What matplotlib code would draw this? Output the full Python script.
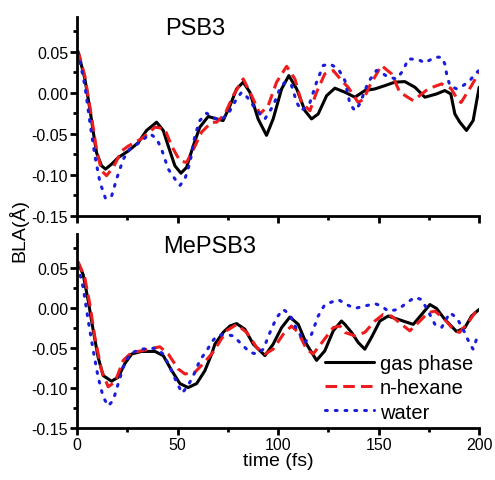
import matplotlib
matplotlib.use("Agg")
import matplotlib.pyplot as plt
from matplotlib.ticker import MultipleLocator

plt.rcParams['font.family'] = ['Liberation Sans', 'DejaVu Sans']

# ---- data: PSB3 (top panel) ----
t_gas_top = [0, 0.5, 3.8, 6.3, 8, 9.6, 12.1, 14.1, 17.1, 20.4, 25.4, 30.3, 34.5, 39.5, 42.8, 45.3,
             48.6, 51.6, 54.4, 57.7, 61, 65.2, 69.4, 72.6, 76, 79.3, 82.6, 85.9, 90, 94.2, 97.5,
             101.7, 105.3, 109.2, 113.3, 116.6, 119.9, 124.1, 128.2, 133.2, 138.2, 143.1, 148.1,
             153.1, 158, 163, 168, 173, 178.8, 182.9, 185.9, 187.9, 190.4, 193.7, 197, 200]
v_gas_top = [0.05, 0.049, 0.0167, -0.02, -0.048, -0.073, -0.089, -0.093, -0.087, -0.079, -0.071,
             -0.061, -0.046, -0.036, -0.046, -0.065, -0.089, -0.098, -0.091, -0.065, -0.042,
             -0.029, -0.032, -0.034, -0.016, 0.0045, 0.0127, 0.0005, -0.032, -0.052, -0.032,
             0.0045, 0.0207, 0.0045, -0.022, -0.032, -0.026, -0.0037, 0.0054, 0.0005, -0.0056,
             0.0025, 0.0045, 0.0085, 0.0127, 0.0134, 0.0066, -0.0056, -0.0016, 0.0025, -0.0016,
             -0.026, -0.036, -0.046, -0.034, 0.0066]

t_hex_top = [0, 0.5, 3.8, 7, 9.6, 12.1, 14.6, 17.9, 22.1, 25.4, 32, 38.7, 43.5, 47, 51.1, 54.4,
             58.6, 61.9, 66.9, 69.4, 73.5, 77.6, 82.6, 86.8, 90.9, 95, 99.2, 104.2, 108.3, 111.6,
             115.8, 119.1, 123.2, 127.4, 132.3, 134.8, 139.8, 142.5, 145.6, 151.4, 156.4, 160.5,
             167.2, 174.6, 181.3, 186, 189.6, 191, 196.2, 200]
v_hex_top = [0.05, 0.05, 0.02, -0.028, -0.069, -0.095, -0.101, -0.091, -0.071, -0.065, -0.056,
             -0.042, -0.044, -0.065, -0.083, -0.085, -0.065, -0.048, -0.036, -0.036, -0.026,
             -0.0037, 0.0167, -0.0037, -0.026, -0.016, 0.0127, 0.032, 0.0167, -0.012, -0.022,
             0.0005, 0.0228, 0.0268, 0.0127, 0.0066, -0.012, -0.008, 0.0085, 0.033, 0.0228,
             0.0005, -0.0098, 0.0045, 0.0106, 0.005, -0.0098, -0.012, 0.0085, 0.0249]

t_wat_top = [0, 0.5, 3.8, 6.3, 8.8, 11.3, 14.1, 17.1, 19.6, 22.9, 26, 32, 36.2, 39.5, 42, 45.3,
             48.6, 51.1, 53.6, 56.1, 58.6, 61, 64.4, 66, 71, 75.1, 79.3, 81.8, 84.6, 89.3, 93.4,
             97.5, 100.8, 103.3, 106.7, 109.2, 111.6, 115.8, 119.1, 122.4, 125.7, 129.9, 133.2,
             135.7, 138.2, 140.6, 144.8, 148.9, 152.3, 154.7, 158.9, 162.2, 164.7, 169.7, 173,
             178, 181.3, 182.9, 183.8, 185.4, 188.8, 192, 195.4, 197.9, 200]
v_wat_top = [0.048, 0.048, 0.0085, -0.036, -0.077, -0.109, -0.129, -0.126, -0.105, -0.081, -0.069,
             -0.059, -0.05, -0.056, -0.069, -0.093, -0.105, -0.113, -0.105, -0.085, -0.052,
             -0.034, -0.025, -0.028, -0.034, -0.026, -0.0077, 0.0005, -0.0056, -0.022, -0.032,
             -0.016, 0.0045, 0.0127, 0.0085, -0.012, -0.022, -0.012, 0.0127, 0.033, 0.035,
             0.0289, 0.0146, -0.0138, -0.022, -0.0138, 0.0127, 0.027, 0.0228, 0.0188, 0.0167,
             0.027, 0.0411, 0.0402, 0.0362, 0.0431, 0.0431, 0.035, 0.0228, 0.0085, 0.0045,
             0.0085, 0.0146, 0.0228, 0.027]

# ---- data: MePSB3 (bottom panel) ----
t_gas_bot = [0, 0.5, 3, 5.5, 8, 10.4, 12.9, 17.1, 20.4, 23.7, 27.1, 32, 38.7, 42.8, 47, 51.1,
             55.2, 59.4, 63.5, 66.9, 68.5, 72.6, 76, 79.3, 83.4, 87.6, 93.4, 97.5, 101.7, 105.8,
             110, 114.1, 119.1, 123.2, 127.4, 131.5, 133.2, 136.5, 139.8, 143.1, 146.4, 150.6,
             154.7, 159.7, 167.2, 171.4, 175.5, 178.8, 182.9, 188.8, 192.9, 196.2, 200]
v_gas_bot = [0.056, 0.0554, 0.041, 0.008, -0.029, -0.062, -0.085, -0.092, -0.087, -0.07, -0.058,
             -0.0548, -0.0548, -0.06, -0.0787, -0.095, -0.1, -0.095, -0.079, -0.058, -0.0457,
             -0.031, -0.023, -0.02, -0.027, -0.0457, -0.06, -0.0457, -0.025, -0.0119, -0.021,
             -0.0457, -0.066, -0.054, -0.029, -0.0168, -0.021, -0.031, -0.0436, -0.052, -0.0374,
             -0.0168, -0.0106, -0.0147, -0.021, -0.0085, 0.0038, -0.0011, -0.0147, -0.03,
             -0.025, -0.0106, -0.0023]

t_hex_bot = [0, 0.5, 3.8, 6.3, 8.8, 12.1, 15.4, 18.8, 22.9, 27.1, 32, 41.1, 45.3, 50.2, 53.6,
             58.6, 62.7, 66.9, 70.1, 74.3, 79.3, 84.3, 89.3, 93.4, 97.5, 102.5, 106.6, 110, 114.1,
             117.4, 122.4, 127.4, 130.7, 133.2, 138.2, 143.1, 148.1, 152.3, 156.4, 161.4, 165.5,
             170.5, 174.6, 178, 182.9, 187.7, 190.2, 194.5, 197.9, 200]
v_hex_bot = [0.057, 0.057, 0.037, 0.0038, -0.0374, -0.0787, -0.099, -0.093, -0.066, -0.056,
             -0.054, -0.049, -0.058, -0.0766, -0.083, -0.0807, -0.07, -0.058, -0.0457, -0.029,
             -0.021, -0.031, -0.0497, -0.058, -0.052, -0.0333, -0.023, -0.031, -0.052, -0.058,
             -0.0416, -0.025, -0.023, -0.031, -0.0354, -0.031, -0.0168, -0.0085, -0.0106,
             -0.021, -0.029, -0.0168, -0.0064, -0.0044, -0.0147, -0.029, -0.031, -0.0189,
             -0.0064, -0.0023]

t_wat_bot = [0, 0.5, 3, 5.5, 8, 10.4, 12.9, 15.4, 17.9, 20.4, 22.9, 26.2, 31.2, 38.7, 42.8, 46.1,
             49.4, 52.2, 55.2, 58.6, 61, 64.4, 67.2, 69.4, 73.5, 77.6, 81.8, 85.9, 89.3, 92.6,
             95.9, 99.2, 102.5, 105.8, 109.2, 113.3, 116.6, 119.9, 123.2, 129.9, 134, 138.2,
             143.1, 148.1, 151.4, 154.7, 159.7, 163.9, 168, 171.4, 174.6, 178, 181.3, 185.4,
             188.8, 192, 195.4, 197, 199.5, 200]
v_wat_bot = [0.051, 0.051, 0.0245, -0.0168, -0.054, -0.087, -0.1116, -0.123, -0.116, -0.095,
             -0.0745, -0.058, -0.052, -0.0508, -0.058, -0.0745, -0.093, -0.107, -0.0973, -0.0807,
             -0.066, -0.054, -0.0423, -0.0354, -0.0333, -0.0354, -0.0457, -0.056, -0.058, -0.052,
             -0.031, -0.0126, -0.0023, -0.0085, -0.027, -0.0436, -0.0333, -0.0106, 0.0038, 0.01,
             0.0038, -0.001, 0.002, 0.005, 0.002, -0.0044, -0.0023, 0.0059, 0.0129, 0.01, -0.0044,
             -0.021, -0.025, -0.0064, -0.0126, -0.027, -0.0457, -0.052, -0.0333, -0.033]

titles = ["PSB3", "MePSB3"]
labels = ["gas phase", "n-hexane", "water"]
xticks = [0, 50, 100, 150, 200]
yticks = [0.05, 0.00, -0.05, -0.10, -0.15]

RED = '#ee1c1c'
BLUE = '#1c1cdc'

fig = plt.figure(figsize=(4.95, 4.81), dpi=100)
ax1 = fig.add_axes([0.156, 0.549, 0.812, 0.4136])
ax2 = fig.add_axes([0.156, 0.109, 0.812, 0.4024])

panels = [
    (ax1, (t_gas_top, v_gas_top), (t_hex_top, v_hex_top), (t_wat_top, v_wat_top)),
    (ax2, (t_gas_bot, v_gas_bot), (t_hex_bot, v_hex_bot), (t_wat_bot, v_wat_bot)),
]
title_pos = [(58.5, 0.079), (66, 0.077)]

for i, (ax, g, h, w) in enumerate(panels):
    ax.plot(g[0], g[1], color='black', lw=2.2, label=labels[0],
            solid_joinstyle='round', solid_capstyle='round')
    ax.plot(h[0], h[1], color=RED, lw=2.2, ls=(0, (3.8, 2.0)), label=labels[1],
            dash_joinstyle='round')
    ax.plot(w[0], w[1], color=BLUE, lw=2.2, ls=(0, (0.6, 2.6)), dash_capstyle='round',
            label=labels[2])
    ax.set_xlim(0, 200)
    ax.set_ylim(-0.15, 0.092)
    ax.set_yticks(yticks)
    ax.set_yticklabels([f"{v:.2f}" for v in yticks])
    ax.set_xticks(xticks)
    ax.xaxis.set_minor_locator(MultipleLocator(25))
    ax.yaxis.set_minor_locator(MultipleLocator(0.025))
    for s in ['top', 'right']:
        ax.spines[s].set_visible(False)
    for s in ['left', 'bottom']:
        ax.spines[s].set_linewidth(2.0)
    ax.tick_params(which='major', direction='out', length=5, width=2, labelsize=11.5, pad=1.5)
    ax.tick_params(which='minor', direction='out', length=3, width=2)
    ax.text(title_pos[i][0], title_pos[i][1], titles[i], fontsize=17, ha='center', va='center')

ax1.tick_params(axis='x', which='both', labelbottom=False)
ax2.set_xticklabels([str(x) for x in xticks])
ax2.set_xlabel("time (fs)", fontsize=14, labelpad=0)

fig.text(0.038, 0.52, "BLA(Å)", rotation=90, fontsize=14, ha='center', va='center')

ax2.legend(loc='lower right', bbox_to_anchor=(1.0, 0.0), frameon=False, fontsize=14.5,
           handlelength=2.4, handletextpad=0.3, labelspacing=0.25, borderpad=0.2,
           borderaxespad=0.1)

fig.savefig("out.png", dpi=100)
